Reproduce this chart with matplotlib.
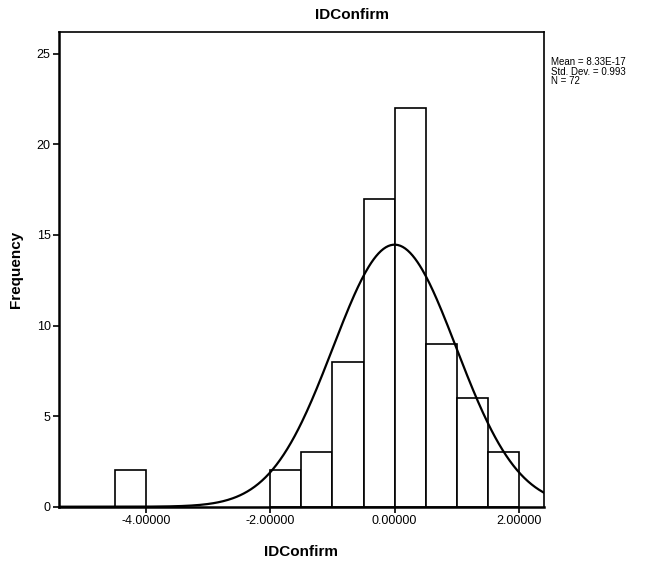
import numpy as np
import matplotlib
matplotlib.use("Agg")
import matplotlib.pyplot as plt

plt.rcParams['font.family'] = ['Liberation Sans', 'DejaVu Sans']

# Data
bin_left = [-4.5, -2.0, -1.5, -1.0, -0.5, 0.0, 0.5, 1.0, 1.5]
counts = [2, 2, 3, 8, 17, 22, 9, 6, 3]
bin_width = 0.5
mean_val = 8.33e-17
sd_val = 0.993
n_val = 72
x_ticks = [-4.0, -2.0, 0.0, 2.0]
x_tick_labels = ["-4.00000", "-2.00000", "0.00000", "2.00000"]
y_ticks = [0, 5, 10, 15, 20, 25]

fig = plt.figure(figsize=(6.52, 5.62), dpi=100)
ax = fig.add_axes([59/652, 1-506.7/562, (543.75-59)/652, (506.7-32)/562])

ax.bar(bin_left, counts, width=bin_width, align='edge', facecolor='white',
       edgecolor='black', linewidth=1.2, zorder=2)

xs = np.linspace(-5.40, 2.40, 400)
ys = n_val * bin_width / (sd_val * np.sqrt(2 * np.pi)) * np.exp(-0.5 * ((xs - mean_val) / sd_val) ** 2)
ax.plot(xs, ys, color='black', linewidth=1.6, zorder=3)

ax.set_xlim(-5.40, 2.40)
ax.set_ylim(0, 26.2)
ax.set_xticks(x_ticks)
ax.set_xticklabels(x_tick_labels, fontsize=9)
ax.set_yticks(y_ticks)
ax.set_yticklabels([str(v) for v in y_ticks], fontsize=9)
ax.tick_params(axis='both', direction='out', length=4, width=1.2, pad=2)
for s in ax.spines.values():
    s.set_linewidth(1.2)
ax.spines['left'].set_linewidth(1.8)
ax.spines['bottom'].set_linewidth(1.8)

ax.set_xlabel("IDConfirm", fontsize=11, fontweight='bold', labelpad=13)
ax.set_ylabel("Frequency", fontsize=11, fontweight='bold', labelpad=10)
fig.text(352/652, 1-15/562, "IDConfirm", fontsize=11, fontweight='bold',
         ha='center', va='center')

fig.text(551/652, 1-57/562,
         "Mean = 8.33E-17\nStd. Dev. = 0.993\nN = 72",
         fontsize=7, ha='left', va='top', linespacing=0.95)

fig.savefig("out.png", dpi=100)
